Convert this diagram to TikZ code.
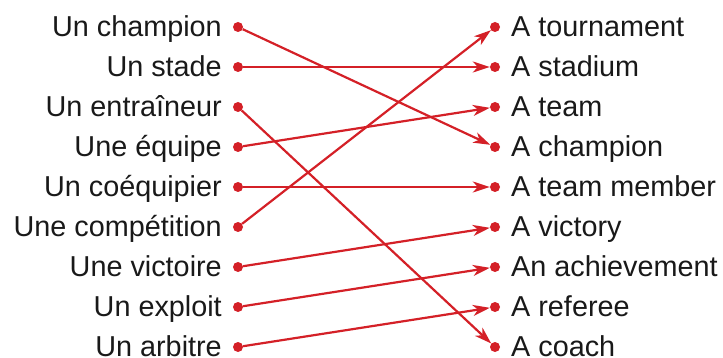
\documentclass[tikz,border=0pt]{standalone}
\usepackage{fontspec}
\setmainfont{Liberation Sans}
\usetikzlibrary{arrows.meta}
\definecolor{lred}{HTML}{D42027}
\begin{document}
\begin{tikzpicture}[x=1pt,y=-1pt,
  dotn/.style={circle,fill=lred,inner sep=0pt,minimum size=10pt},
  lab/.style={inner sep=0pt,font=\fontsize{28.8}{32}\selectfont,text=black!90},
  conn/.style={draw=lred,line width=2.2pt,-{Stealth[length=17pt,width=11pt,inset=5pt]},shorten >=0pt}]
\useasboundingbox (0,0) rectangle (723,358);
\foreach \i/\l/\r in {1/Un champion/A tournament,2/Un stade/A stadium,3/Un entraîneur/A team,4/Une équipe/A champion,5/Un coéquipier/A team member,6/Une compétition/A victory,7/Une victoire/An achievement,8/Un exploit/A referee,9/Un arbitre/A coach}{
  \pgfmathsetmacro{\yy}{27+40*(\i-1)}
  \node[dotn] (l\i) at (238,\yy) {};
  \node[dotn] (r\i) at (495,\yy) {};
  \node[lab,anchor=base east] (lt\i) at (222,\yy+9.5) {\l};
  \node[lab,anchor=base west] (rt\i) at (511,\yy+9.5) {\r};
}
\draw[conn] (l1) -- (r4);
\draw[conn] (l2) -- (r2);
\draw[conn] (l3) -- (r9);
\draw[conn] (l4) -- (r3);
\draw[conn] (l5) -- (r5);
\draw[conn] (l6) -- (r1);
\draw[conn] (l7) -- (r6);
\draw[conn] (l8) -- (r7);
\draw[conn] (l9) -- (r8);
\end{tikzpicture}
\end{document}
